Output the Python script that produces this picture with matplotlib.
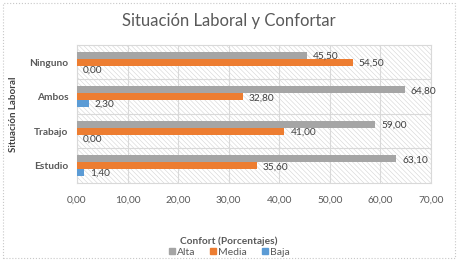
import numpy as np
import matplotlib.pyplot as plt
from matplotlib.patches import Rectangle
from matplotlib.lines import Line2D
from matplotlib.ticker import FuncFormatter

plt.rcParams['font.family'] = ['Lato', 'DejaVu Sans']
plt.rcParams['hatch.linewidth'] = 0.4

# data
categorias = ['Estudio', 'Trabajo', 'Ambos', 'Ninguno']
alta = [63.10, 59.00, 64.80, 45.50]
media = [35.60, 41.00, 32.80, 54.50]
baja = [1.40, 0.00, 2.30, 0.00]
series = ['Alta', 'Media', 'Baja']
colores = ['#A5A5A5', '#ED7D31', '#5B9BD5']

def fmt(v):
    return f'{v:.2f}'.replace('.', ',')

fig = plt.figure(figsize=(4.58, 2.61), dpi=100)
ax = fig.add_axes([0.168, 0.299, 0.773, 0.529])

# hatched plot area background
ax.add_patch(Rectangle((0, 0), 1, 1, transform=ax.transAxes, facecolor='white',
                       edgecolor='#d4d4d4', hatch='\\' * 7, lw=0, zorder=0))

y = np.arange(len(categorias))
h = 0.2
offsets = [h, 0, -h]
for vals, off, col, name in zip([alta, media, baja], offsets, colores, series):
    ax.barh(y + off, vals, height=h, color=col, label=name, zorder=3)
    for yi, v in zip(y, vals):
        ax.text(v + 1.2, yi + off - 0.03, fmt(v), va='center', ha='left',
                fontsize=7.3, color='#404040', zorder=4)

ax.set_xlim(0, 70)
ax.set_ylim(-0.5, 3.5)
ax.set_xticks(np.arange(0, 71, 10))
ax.xaxis.set_major_formatter(FuncFormatter(lambda v, p: fmt(v)))
ax.set_yticks(y)
ax.set_yticklabels(categorias, fontweight='bold')
ax.tick_params(length=0, labelsize=7.3, colors='#595959', pad=6)
ax.tick_params(axis='x', pad=9)

ax.grid(axis='x', color='#d9d9d9', lw=0.8, zorder=1)
for b in [0.5, 1.5, 2.5]:
    ax.axhline(b, color='#d9d9d9', lw=0.8, zorder=1)
for s in ax.spines.values():
    s.set_color('#d9d9d9')
    s.set_linewidth(0.8)

ax.set_ylabel('Situación Laboral', fontsize=7, fontweight='bold', color='#404040', labelpad=8)
fig.text(0.5, 0.075, 'Confort (Porcentajes)', ha='center', va='center',
         fontsize=7.3, fontweight='bold', color='#595959')
fig.suptitle('Situación Laboral y Confortar', x=0.5, y=0.95, fontsize=12, color='#595959')

handles = [Line2D([], [], marker='s', linestyle='none', markersize=5,
                  markerfacecolor=c, markeredgecolor=c) for c in colores]
fig.legend(handles, series, loc='center', bbox_to_anchor=(0.5, 0.035), ncol=3,
           frameon=False, fontsize=7.5, handlelength=0.6, handletextpad=0.2,
           columnspacing=1.4, labelcolor='#595959')

fig.add_artist(Rectangle((0.006, 0.012), 0.988, 0.976, transform=fig.transFigure,
                         fill=False, edgecolor='#c8c8c8', lw=0.8, linestyle=':'))

fig.savefig('out.png', dpi=100)
